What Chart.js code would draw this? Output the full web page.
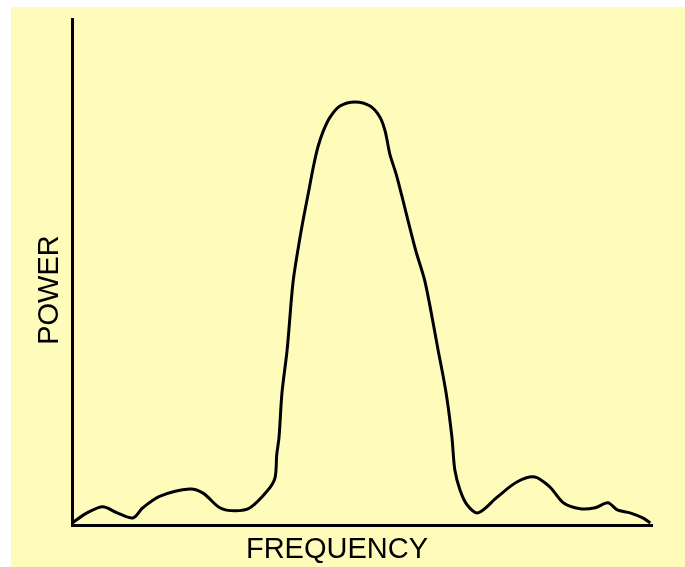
<!DOCTYPE html>
<html>
<head>
<meta charset="utf-8">
<script src="https://cdn.jsdelivr.net/npm/chart.js@4/dist/chart.umd.min.js"></script>
<style>
  html, body { margin: 0; padding: 0; background: #ffffff; }
  #wrap { position: absolute; left: 11px; top: 7px; width: 674px; height: 560px; background: #fffcbb; }
</style>
</head>
<body>
<div id="wrap"><canvas id="spectrum-chart" width="674" height="560"></canvas></div>
<script>
// Espectro de potencia
const frequency = [0, 2.6, 5.3, 7.8, 10.5, 12.2, 15.2, 20.3, 22.6, 25.5, 28.1, 30.7, 33.8, 35.0, 35.3, 35.7, 36.2, 37.1, 38.1, 39.1, 39.8, 40.7, 41.6, 42.4, 43.3, 44.5, 46.2, 48.8, 51.4, 53.1, 54.0, 54.8, 55.9, 57.1, 58.1, 59.3, 60.9, 63.1, 64.5, 65.5, 66.0, 66.9, 68.1, 70.0, 73.3, 76.7, 79.8, 82.4, 84.7, 87.6, 90.2, 92.4, 94.0, 96.2, 98.4, 99.7];
const power = [0.4, 2.4, 3.6, 2.4, 1.4, 3.4, 5.7, 7.1, 6.3, 3.4, 2.8, 3.4, 6.9, 9.3, 13.9, 17.4, 26.1, 34.7, 47.9, 55.4, 60.0, 65.3, 70.7, 74.7, 77.8, 80.6, 82.8, 83.6, 82.8, 80.6, 77.8, 73.3, 69.3, 64.0, 59.4, 54.1, 47.9, 34.7, 26.1, 17.4, 10.9, 6.9, 4.0, 2.4, 5.5, 8.5, 9.5, 7.5, 4.4, 3.2, 3.4, 4.4, 3.0, 2.4, 1.4, 0.4];
const xLabel = 'FREQUENCY';
const yLabel = 'POWER';

const points = frequency.map((f, i) => ({ x: f, y: power[i] }));

// etiquetas de los ejes
const axisLabels = {
    id: 'axisLabels',
    afterDraw(chart) {
        const c = chart.ctx;
        const a = chart.chartArea;
        c.save();
        c.fillStyle = '#000';
        c.font = '29px "Liberation Sans", Arial, sans-serif';
        c.textAlign = 'center';
        c.textBaseline = 'middle';
        c.fillText(xLabel, a.left + 265, a.bottom + 25);
        c.translate(a.left - 22, a.top + 271);
        c.rotate(-Math.PI / 2);
        c.fillText(yLabel, 0, 0);
        c.restore();
    }
};

const ctx = document.getElementById('spectrum-chart').getContext('2d');
new Chart(ctx, {
    type: 'line',
    data: {
        datasets: [{
            data: points,
            borderColor: '#000',
            borderWidth: 3,
            pointRadius: 0,
            tension: 0.3,
            fill: false
        }]
    },
    options: {
        responsive: false,
        animation: false,
        clip: false,
        layout: { padding: { left: 61, top: 12, right: 33, bottom: 42 } },
        plugins: { legend: { display: false }, tooltip: { enabled: false } },
        scales: {
            x: {
                type: 'linear',
                min: 0,
                max: 100,
                grid: { display: false, drawTicks: false },
                ticks: { display: false },
                border: { display: true, color: '#000', width: 3 }
            },
            y: {
                min: 0,
                max: 100,
                grid: { display: false, drawTicks: false },
                ticks: { display: false },
                border: { display: true, color: '#000', width: 3 }
            }
        }
    },
    plugins: [axisLabels]
});
</script>
</body>
</html>
